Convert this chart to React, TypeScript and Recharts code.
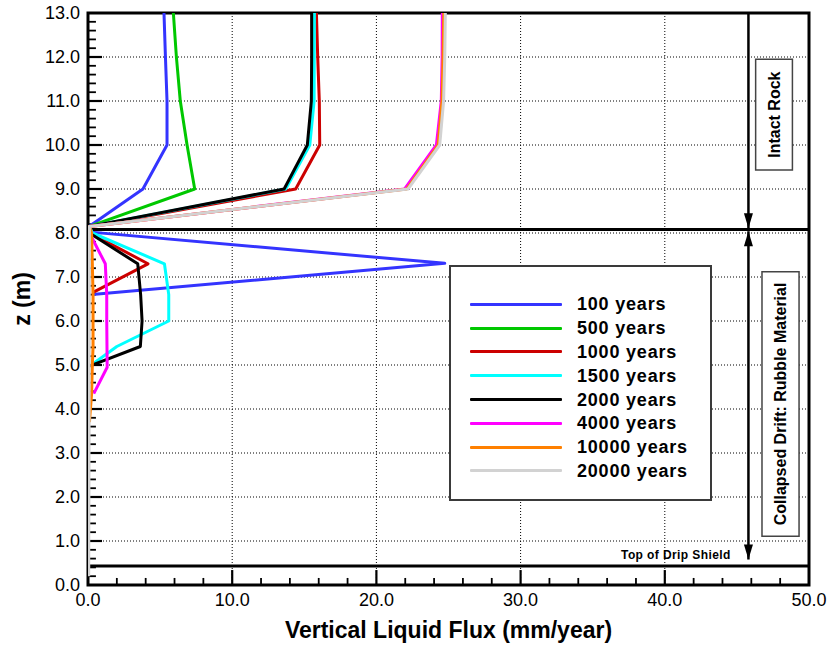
import React from 'react';
import {
  ComposedChart,
  Scatter,
  XAxis,
  YAxis,
  CartesianGrid,
  ReferenceLine,
  ReferenceArea,
  ReferenceDot,
  Legend,
} from 'recharts';

const FONT = "'Liberation Sans', Arial, Helvetica, sans-serif";

// ---------- data (flux in mm/year, z in m) ----------
const years100 = [
  { flux: 5.27, z: 13 }, { flux: 5.37, z: 12 }, { flux: 5.48, z: 11 }, { flux: 5.48, z: 10 },
  { flux: 3.81, z: 9 }, { flux: 0.07, z: 8.15 }, { flux: 0.2, z: 8.02 }, { flux: 24.74, z: 7.31 },
  { flux: 0.3, z: 6.6 },
];
const years500 = [
  { flux: 5.92, z: 13 }, { flux: 6.13, z: 12 }, { flux: 6.4, z: 11 }, { flux: 6.87, z: 10 },
  { flux: 7.4, z: 9 }, { flux: 0.1, z: 8.15 },
];
const years1000 = [
  { flux: 15.84, z: 13 }, { flux: 15.93, z: 12 }, { flux: 16.04, z: 11 }, { flux: 16.07, z: 10 },
  { flux: 14.4, z: 9 }, { flux: 0.1, z: 8.15 }, { flux: 0.15, z: 8.0 }, { flux: 4.16, z: 7.3 },
  { flux: 0.35, z: 6.65 },
];
const years1500 = [
  { flux: 15.7, z: 13 }, { flux: 15.69, z: 12 }, { flux: 15.68, z: 11 }, { flux: 15.38, z: 10 },
  { flux: 13.71, z: 9 }, { flux: 0.1, z: 8.15 }, { flux: 0.3, z: 8.0 }, { flux: 5.3, z: 7.3 },
  { flux: 5.6, z: 6.6 }, { flux: 5.6, z: 6.0 }, { flux: 2.0, z: 5.42 }, { flux: 0.35, z: 5.03 },
];
const years2000 = [
  { flux: 15.51, z: 13 }, { flux: 15.51, z: 12 }, { flux: 15.49, z: 11 }, { flux: 15.21, z: 10 },
  { flux: 13.6, z: 9 }, { flux: 0.1, z: 8.15 }, { flux: 0.1, z: 8.0 }, { flux: 3.45, z: 7.3 },
  { flux: 3.65, z: 6.6 }, { flux: 3.75, z: 6.0 }, { flux: 3.63, z: 5.42 }, { flux: 0.05, z: 4.97 },
];
const years4000 = [
  { flux: 24.57, z: 13 }, { flux: 24.56, z: 12 }, { flux: 24.5, z: 11 }, { flux: 24.16, z: 10 },
  { flux: 21.96, z: 9 }, { flux: 0.1, z: 8.15 }, { flux: 0.23, z: 7.92 }, { flux: 1.2, z: 7.3 },
  { flux: 1.3, z: 6.6 }, { flux: 1.3, z: 6.0 }, { flux: 1.33, z: 4.95 }, { flux: 0.4, z: 4.35 },
];
const years10000 = [
  { flux: 24.67, z: 13 }, { flux: 24.62, z: 12 }, { flux: 24.55, z: 11 }, { flux: 24.28, z: 10 },
  { flux: 22.1, z: 9 }, { flux: 0.1, z: 8.15 }, { flux: 0.25, z: 8.0 }, { flux: 0.3, z: 7.3 },
  { flux: 0.35, z: 6.6 }, { flux: 0.35, z: 6.0 }, { flux: 0.35, z: 5.4 }, { flux: 0.3, z: 5.0 },
  { flux: 0.25, z: 4.35 }, { flux: 0.1, z: 3.7 },
];
const years20000 = [
  { flux: 24.78, z: 13 }, { flux: 24.74, z: 12 }, { flux: 24.66, z: 11 }, { flux: 24.39, z: 10 },
  { flux: 22.19, z: 9 }, { flux: 0.1, z: 8.15 }, { flux: 0.1, z: 8.0 }, { flux: 0.08, z: 4.0 },
  { flux: 0.05, z: 0.2 },
];

const seriesNames = ['100 years', '500 years', '1000 years', '1500 years', '2000 years', '4000 years', '10000 years', '20000 years'];
const seriesColors = ['#3434ff', '#00c800', '#cc0000', '#00ffff', '#000000', '#ff00ff', '#ff8000', '#d2d2d2'];
const seriesData = [years100, years500, years1000, years1500, years2000, years4000, years10000, years20000];

const xTicks = [0, 10, 20, 30, 40, 50];
const yTicks = [0, 1, 2, 3, 4, 5, 6, 7, 8, 9, 10, 11, 12, 13];
const xMinorTicks = [2, 4, 6, 8, 12, 14, 16, 18, 22, 24, 26, 28, 32, 34, 36, 38, 42, 44, 46, 48];
const yMinorTicks = Array.from({ length: 65 }, (_, i) => +(0.2 * (i + 1)).toFixed(1)).filter(
  (v) => Math.abs(v - Math.round(v)) > 1e-6 && v < 13
);

// region annotations
const driftTop = 8.08;
const shieldTop = 0.43;
const arrowX = 45.8;

const makeArrow = (bothEnds: boolean) => (p: any) => {
  const { x1, y1, x2, y2 } = p;
  const L = 15;
  const W = 4.5;
  const dx = x2 - x1;
  const dy = y2 - y1;
  const len = Math.hypot(dx, dy) || 1;
  const ux = dx / len;
  const uy = dy / len;
  const head = (tx: number, ty: number, dirx: number, diry: number) => {
    const bx = tx - dirx * L;
    const by = ty - diry * L;
    const px = -diry * W;
    const py = dirx * W;
    return `${tx},${ty} ${bx + px},${by + py} ${bx - px},${by - py}`;
  };
  return (
    <g>
      <line x1={x1} y1={y1} x2={x2} y2={y2} stroke="#000" strokeWidth={2.5} />
      <polygon points={head(x2, y2, ux, uy)} fill="#000" />
      {bothEnds && <polygon points={head(x1, y1, -ux, -uy)} fill="#000" />}
    </g>
  );
};

const YTitle = (props: any) => {
  const vb = props.viewBox || { x: 0, y: 13, width: 88, height: 572 };
  const cx = vb.x + 22;
  const cy = vb.y + vb.height / 2;
  return (
    <text
      x={cx}
      y={cy}
      transform={`rotate(-90 ${cx} ${cy})`}
      textAnchor="middle"
      dominantBaseline="central"
      fontFamily={FONT}
      fontWeight="bold"
      fontSize={23}
      fill="#000"
    >
      z (m)
    </text>
  );
};

const LegendBox = () => (
  <div
    style={{
      width: 263,
      height: 236,
      boxSizing: 'border-box',
      border: '2px solid #3a3a3a',
      background: '#fff',
      position: 'relative',
    }}
  >
    {seriesNames.map((name, i) => (
      <div
        key={name}
        style={{
          position: 'absolute',
          left: 0,
          top: 37.3 + i * 23.8 - 12,
          height: 24,
          display: 'flex',
          alignItems: 'center',
        }}
      >
        <div style={{ marginLeft: 19, width: 92, height: 3, background: seriesColors[i], borderRadius: 1 }} />
        <span
          style={{
            marginLeft: 15,
            fontFamily: FONT,
            fontWeight: 'bold',
            fontSize: 18,
            letterSpacing: 0.8,
            color: '#000',
            lineHeight: '24px',
          }}
        >
          {name}
        </span>
      </div>
    ))}
  </div>
);

const NoDot = () => <g />;

export default function App() {
  return (
    <div style={{ position: 'absolute', left: 0, top: 0, background: '#fff' }}>
      <ComposedChart width={831} height={648} margin={{ top: 13, right: 22, bottom: 0, left: 0 }}>
        <CartesianGrid stroke="#000" strokeWidth={1} strokeDasharray="1 2" />
        <XAxis
          dataKey="flux"
          type="number"
          domain={[0, 50]}
          ticks={xTicks}
          allowDataOverflow
          height={63}
          axisLine={false}
          tickLine={false}
          tickFormatter={(v: number) => v.toFixed(1)}
          tick={{ fontSize: 18, fill: '#000', fontFamily: FONT }}
          label={{
            value: 'Vertical Liquid Flux (mm/year)',
            position: 'insideBottom',
            offset: 10,
            fontSize: 23,
            fontWeight: 'bold',
            fill: '#000',
            fontFamily: FONT,
          }}
        />
        <YAxis
          dataKey="z"
          type="number"
          domain={[0, 13]}
          ticks={yTicks}
          allowDataOverflow
          width={88}
          axisLine={false}
          tickLine={false}
          tickFormatter={(v: number) => v.toFixed(1)}
          tick={{ fontSize: 18, fill: '#000', fontFamily: FONT }}
          label={{ content: YTitle }}
        />

        {/* region boxes */}
        <ReferenceArea
          x1={46.3}
          x2={48.85}
          y1={9.43}
          y2={11.95}
          fill="#fff"
          fillOpacity={1}
          stroke="#444"
          strokeWidth={1.5}
          label={{ value: 'Intact Rock', angle: -90, position: 'center', fontSize: 16, fontWeight: 'bold', fill: '#000', fontFamily: FONT }}
        />
        <ReferenceArea
          x1={46.74}
          x2={49.31}
          y1={1.11}
          y2={7.12}
          fill="#fff"
          fillOpacity={1}
          stroke="#444"
          strokeWidth={1.5}
          label={{ value: 'Collapsed Drift: Rubble Material', angle: -90, position: 'center', fontSize: 16, fontWeight: 'bold', fill: '#000', fontFamily: FONT }}
        />

        {seriesData.map((d, i) => (
          <Scatter
            key={seriesNames[i]}
            name={seriesNames[i]}
            data={d}
            fill={seriesColors[i]}
            line={{ stroke: seriesColors[i], strokeWidth: 3, strokeLinejoin: 'round' }}
            lineType="joint"
            shape={NoDot}
            legendType="none"
            isAnimationActive={false}
          />
        ))}

        {/* region boundaries */}
        <ReferenceLine y={driftTop} stroke="#000" strokeWidth={3} />
        <ReferenceLine y={shieldTop} stroke="#000" strokeWidth={3} />

        {/* arrows */}
        <ReferenceLine
          segment={[{ x: arrowX, y: 13 }, { x: arrowX, y: 8.11 }]}
          stroke="#000"
          shape={makeArrow(false)}
        />
        <ReferenceLine
          segment={[{ x: arrowX, y: 8.04 }, { x: arrowX, y: 0.58 }]}
          stroke="#000"
          shape={makeArrow(true)}
        />

        <ReferenceDot
          x={44.57}
          y={0.69}
          r={0}
          fill="none"
          stroke="none"
          label={{ value: 'Top of Drip Shield', position: 'left', offset: 0, fontSize: 12, fontWeight: 'bold', letterSpacing: 0.4, fill: '#000', fontFamily: FONT }}
        />

        {/* inward tick marks */}
        {yTicks.filter((v) => v > 0 && v < 13).map((v) => (
          <ReferenceLine key={'ym' + v} segment={[{ x: 0, y: v }, { x: 0.97, y: v }]} stroke="#000" strokeWidth={2.2} />
        ))}
        {yMinorTicks.map((v) => (
          <ReferenceLine key={'yn' + v} segment={[{ x: 0, y: v }, { x: 0.55, y: v }]} stroke="#000" strokeWidth={1.8} />
        ))}
        {xTicks.filter((v) => v > 0 && v < 50).map((v) => (
          <ReferenceLine key={'xm' + v} segment={[{ x: v, y: 0 }, { x: v, y: 0.34 }]} stroke="#000" strokeWidth={2.2} />
        ))}
        {xMinorTicks.map((v) => (
          <ReferenceLine key={'xn' + v} segment={[{ x: v, y: 0 }, { x: v, y: 0.16 }]} stroke="#000" strokeWidth={1.8} />
        ))}

        {/* frame */}
        <ReferenceArea x1={0} x2={50} y1={0} y2={13} fill="none" stroke="#000" strokeWidth={3} ifOverflow="visible" />

        <Legend
          layout="vertical"
          align="center"
          verticalAlign="middle"
          width={263}
          height={236}
          wrapperStyle={{ left: 449, top: 265, width: 263, height: 236 }}
          content={LegendBox}
        />
      </ComposedChart>
    </div>
  );
}
